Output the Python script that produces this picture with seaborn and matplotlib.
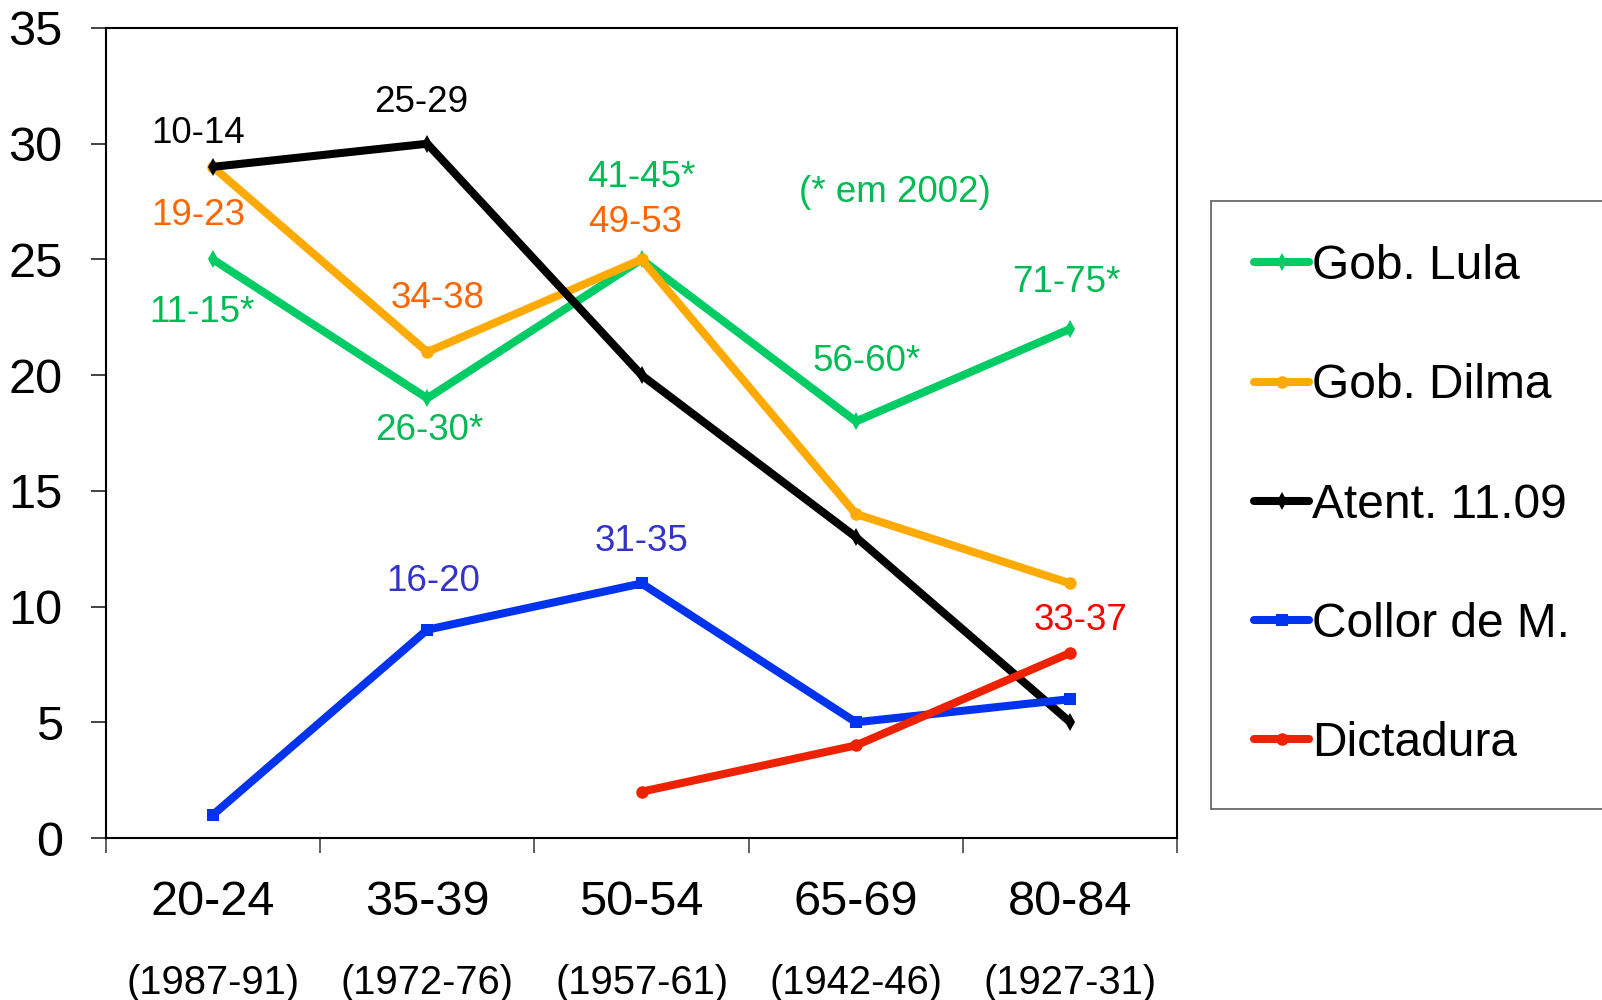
import pandas as pd
import seaborn as sns
import matplotlib.pyplot as plt
import numpy as np

# age groups and birth cohorts
ages = ['20-24', '35-39', '50-54', '65-69', '80-84']
cohorts = ['(1987-91)', '(1972-76)', '(1957-61)', '(1942-46)', '(1927-31)']

series_names = ['Gob. Lula', 'Gob. Dilma', 'Atent. 11.09', 'Collor de M.', 'Dictadura']
lula = [25, 19, 25, 18, 22]
dilma = [29, 21, 25, 14, 11]
atent = [29, 30, 20, 13, 5]
collor = [1, 9, 11, 5, 6]
dictadura = [np.nan, np.nan, 2, 4, 8]

colors = ['#00CC66', '#FFAA00', '#000000', '#0033EE', '#EE2200']
markers = ['d', 'o', 'd', 's', 'o']

# age labels written on the lines: (text, x index, y, colour)
ann_text = ['10-14', '25-29', '19-23', '11-15*', '34-38', '26-30*', '41-45*', '49-53',
            '(* em 2002)', '56-60*', '71-75*', '16-20', '31-35', '33-37']
ann_x = [-0.07, 0.97, -0.07, -0.05, 1.05, 1.01, 2.0, 1.97, 3.18, 3.05, 3.98, 1.03, 2.0, 4.05]
ann_y = [30.45, 31.8, 26.9, 22.7, 23.3, 17.6, 28.55, 26.6, 27.9, 20.6, 24.0, 11.1, 12.8, 9.4]
ann_col = ['#000000', '#000000', '#FF6600', '#00BB55', '#FF6600', '#00BB55', '#00BB55', '#FF6600',
           '#00BB55', '#00BB55', '#00BB55', '#3333CC', '#3333CC', '#FF0000']

values = [lula, dilma, atent, collor, dictadura]
df = pd.concat([pd.DataFrame({'edad': ages, 'pct': v, 'serie': n})
                for n, v in zip(series_names, values)], ignore_index=True)

sns.set_style('white')
plt.rcParams['font.family'] = ['Liberation Sans', 'DejaVu Sans']
plt.rcParams['text.color'] = 'black'

fig = plt.figure(figsize=(16.02, 10), dpi=100)
ax = fig.add_axes([0.066, 0.162, 0.669, 0.81])

sns.lineplot(data=df, x='edad', y='pct', hue='serie', style='serie',
             palette=dict(zip(series_names, colors)),
             markers=dict(zip(series_names, markers)),
             dashes=False, sort=False, linewidth=5.8, markersize=9,
             markeredgewidth=0, ax=ax, legend=True)

ax.set_xlim(-0.5, 4.5)
ax.set_ylim(0, 35)
ax.set_yticks(range(0, 36, 5))
ax.set_xticks(range(5))
ax.set_xticklabels(ages)
ax.set_xticks(np.arange(-0.5, 4.6, 1), minor=True)
ax.tick_params(axis='x', which='major', bottom=True, length=0, labelsize=35, pad=30,
               labelcolor='black')
ax.tick_params(axis='x', which='minor', bottom=True, length=11, width=1.2, direction='out',
               color='#444444')
ax.tick_params(axis='y', left=True, length=11, width=1.2, direction='out', labelsize=35, pad=20,
               color='#222222', labelcolor='black')
ax.set_xlabel('')
ax.set_ylabel('')
for s in ax.spines.values():
    s.set_color('black')
    s.set_linewidth(1.5)

for c, xi in zip(cohorts, range(5)):
    ax.text(xi, -0.179, c, transform=ax.get_xaxis_transform(), ha='center', va='center',
            fontsize=28.8, color='black')

for t, x, y, c in zip(ann_text, ann_x, ann_y, ann_col):
    ax.text(x, y, t, ha='center', va='center', fontsize=26.5, color=c)

leg = ax.legend(loc='upper left', bbox_to_anchor=(0.756, 0.799), bbox_transform=fig.transFigure,
                fontsize=34.5, frameon=True, fancybox=False, edgecolor='#333333',
                handlelength=1.15, handletextpad=0.05, labelspacing=1.55,
                borderpad=0.9, borderaxespad=0)
leg.get_frame().set_linewidth(1.2)
for text in leg.get_texts():
    text.set_color('black')
for line in leg.get_lines():
    line.set_linewidth(5.8)

fig.savefig('out.png', dpi=100, facecolor='white')
